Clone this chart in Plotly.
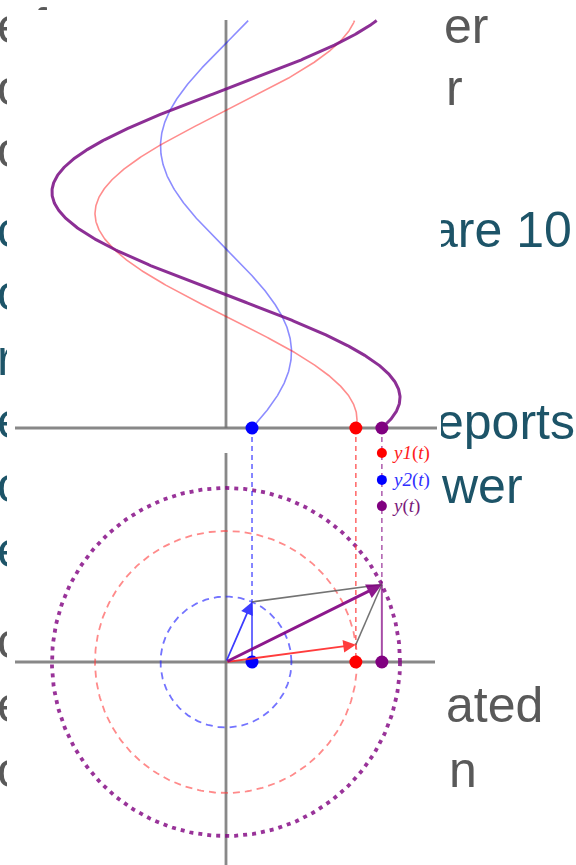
import numpy as np
import plotly.graph_objects as go

# ---------------- data ----------------
series_names = ["y1(t)", "y2(t)", "y(t)"]
amplitudes = [2.0, 1.0]            # y1 (red), y2 (blue)
phases_deg = [7.6, 66.6]           # phase of each phasor at the sampled instant
omega = 1.0                        # rad per unit along the time axis
tau_max = 6.22                     # length of the drawn time axis (units)
legend_y = [3.19, 2.78, 2.38]      # legend rows (data units)

# background slide text (fragments partly hidden behind the diagram)
left_letters = ["e", "o", "o", "c", "o", "r", "e", "o", "e", "c", "e", "o"]
left_baselines = [43, 105, 167, 247, 310, 375, 438, 502, 567, 658, 722, 787]
left_kind = ["g", "g", "g", "t", "t", "t", "t", "t", "t", "g", "g", "g"]
right_words = ["er", "r", "are 10", "eports", "wer", "ated", "n"]
right_left_px = [444, 446, 430, 436, 442, 446, 449]
right_baselines = [43, 105, 247, 439, 503, 722, 787]
right_kind = ["g", "g", "t", "t", "t", "g", "g"]

# ---------------- geometry / style ----------------
W, H = 576, 865
PX = 65.5                 # pixels per unit
OX, OY = 226, 662         # pixel position of the phasor origin
FS = 50
TEXT_COL = {"g": "#595959", "t": "#1d5468"}
RED, BLUE, PURPLE = "#ff0000", "#0000ff", "#800080"
AXIS_COL = "rgba(115,115,115,0.85)"


def px2x(px):
    return (px - OX) / PX


def py2y(py):
    return (OY - py) / PX


Y_BASE = py2y(428)        # time-axis baseline of the wave plot

fig = go.Figure()


def text_trace(txt, px, baseline, col):
    fig.add_trace(go.Scatter(
        x=[px2x(px)], y=[py2y(baseline - 0.25 * FS)], mode="text", text=[txt],
        textposition="middle right",
        textfont=dict(family="Liberation Sans, Arial, sans-serif", size=FS, color=col),
        hoverinfo="skip", showlegend=False))


for ch, b, k in zip(left_letters, left_baselines, left_kind):
    text_trace(ch, -3, b, TEXT_COL[k])
text_trace("f", 33, 43, TEXT_COL["g"])
for wd, xl, b, k in zip(right_words, right_left_px, right_baselines, right_kind):
    text_trace(wd, xl, b, TEXT_COL[k])

# white cover of the diagram image
cx0, cx1, cy0, cy1 = px2x(7), px2x(441), py2y(865), py2y(10)
fig.add_trace(go.Scatter(x=[cx0, cx1, cx1, cx0, cx0], y=[cy0, cy0, cy1, cy1, cy0],
                         mode="lines", fill="toself", fillcolor="white",
                         line=dict(width=0, color="white"), hoverinfo="skip",
                         showlegend=False))


def line(xs, ys, color, width, dash="solid"):
    fig.add_trace(go.Scatter(x=xs, y=ys, mode="lines",
                             line=dict(color=color, width=width, dash=dash),
                             hoverinfo="skip", showlegend=False))


# axes
line([px2x(15), px2x(437)], [Y_BASE, Y_BASE], AXIS_COL, 2.8)
line([0, 0], [Y_BASE, py2y(20)], AXIS_COL, 2.8)
line([px2x(15), px2x(435)], [0, 0], AXIS_COL, 2.8)
line([0, 0], [py2y(865), py2y(453)], AXIS_COL, 2.8)

# phasors
phis = np.deg2rad(phases_deg)
z1 = amplitudes[0] * np.exp(1j * phis[0])
z2 = amplitudes[1] * np.exp(1j * phis[1])
zs = z1 + z2
A_s, phi_s = abs(zs), np.angle(zs)

# circles
th = np.linspace(0, 2 * np.pi, 361)
line(amplitudes[1] * np.cos(th), amplitudes[1] * np.sin(th), "rgba(40,40,255,0.65)", 1.8, "7px,5px")
line(amplitudes[0] * np.cos(th), amplitudes[0] * np.sin(th), "rgba(255,60,60,0.6)", 1.8, "7px,5px")
line(A_s * np.cos(th), A_s * np.sin(th), "rgba(128,0,128,0.8)", 3.8, "4px,5px")

# waves
tau = np.linspace(0, tau_max, 500)
line(amplitudes[1] * np.cos(phis[1] - omega * tau), Y_BASE + tau, "rgba(0,0,255,0.45)", 1.6)
line(amplitudes[0] * np.cos(phis[0] - omega * tau), Y_BASE + tau, "rgba(255,0,0,0.45)", 1.6)
line(A_s * np.cos(phi_s - omega * tau), Y_BASE + tau, "rgba(120,10,130,0.85)", 3)

# projection lines
line([z2.real, z2.real], [Y_BASE, z2.imag], "rgba(40,40,255,0.75)", 1.5, "5px,4px")
line([z2.real, z2.real], [z2.imag, 0], "rgba(40,40,255,0.85)", 1.6)
line([z1.real, z1.real], [Y_BASE, 0], "rgba(255,50,50,0.75)", 1.5, "5px,4px")
line([zs.real, zs.real], [Y_BASE, zs.imag], "rgba(128,0,128,0.65)", 1.5, "5px,4px")
line([zs.real, zs.real], [zs.imag, 0], "rgba(128,0,128,0.7)", 2)

# parallelogram sides
line([z2.real, zs.real], [z2.imag, zs.imag], "rgba(90,90,90,0.85)", 1.5)
line([z1.real, zs.real], [z1.imag, zs.imag], "rgba(90,90,90,0.85)", 1.5)

# dots on axes
cols = [RED, BLUE, PURPLE]
xs_proj = [z1.real, z2.real, zs.real]
for xv, c in zip(xs_proj, cols):
    fig.add_trace(go.Scatter(x=[xv, xv], y=[Y_BASE, 0], mode="markers",
                             marker=dict(color=c, size=13), hoverinfo="skip",
                             showlegend=False))

# legend
fig.add_trace(go.Scatter(x=[zs.real] * 3, y=legend_y, mode="markers",
                         marker=dict(color=[RED, BLUE, PURPLE], size=10),
                         hoverinfo="skip", showlegend=False))
leg_cols = ["#ff2020", "#3030ff", "#7a1a7a"]
for name, yv, c in zip(series_names, legend_y, leg_cols):
    head, rest = name.split("(")
    fig.add_annotation(x=zs.real + px2x(OX + 8), y=yv, xref="x", yref="y",
                       text=f"<i>{head}</i>(<i>{rest[:-1]}</i>)", showarrow=False,
                       xanchor="left", yanchor="middle",
                       font=dict(family="Liberation Serif, serif", size=19, color=c))

# arrows
for z, c, w, s in [(z2, "rgba(40,40,255,0.9)", 1.8, 1.4),
                   (z1, "rgba(255,40,40,0.9)", 1.8, 1.4),
                   (zs, "rgba(128,0,128,0.9)", 3, 1.0)]:
    fig.add_annotation(x=z.real, y=z.imag, ax=0, ay=0, xref="x", yref="y",
                       axref="x", ayref="y", text="", showarrow=True,
                       arrowhead=2, arrowsize=s, arrowwidth=w, arrowcolor=c,
                       standoff=0)

fig.update_layout(
    width=W, height=H, margin=dict(l=0, r=0, t=0, b=0),
    paper_bgcolor="white", plot_bgcolor="white",
    xaxis=dict(range=[px2x(0), px2x(W)], visible=False, fixedrange=True),
    yaxis=dict(range=[py2y(H), py2y(0)], visible=False, fixedrange=True),
    showlegend=False,
)

fig.write_html("out.html", config={"displayModeBar": False, "staticPlot": True},
               post_script="document.body.style.margin='0';document.body.style.overflow='hidden';")
